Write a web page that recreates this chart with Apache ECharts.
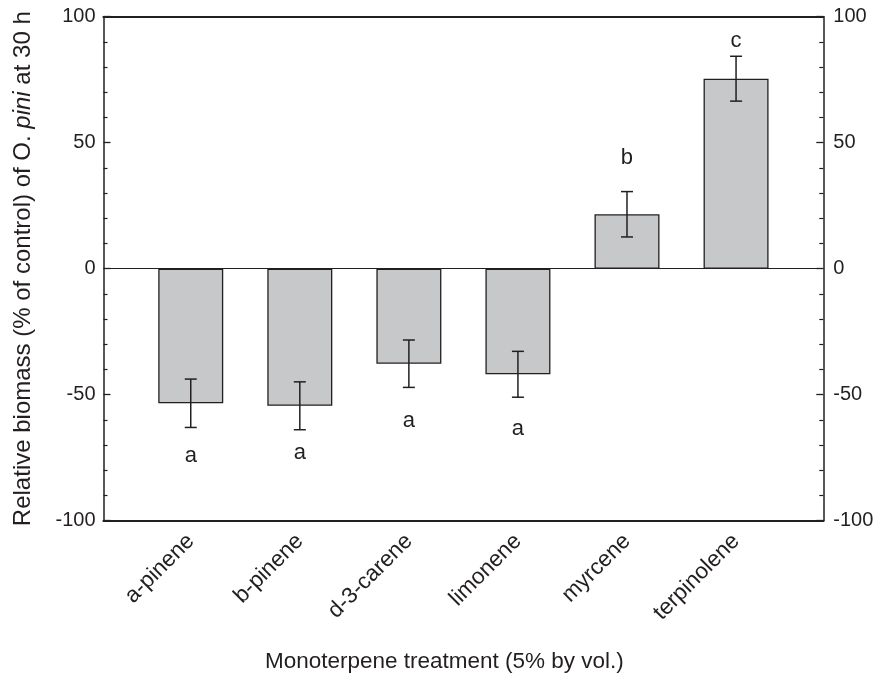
<!DOCTYPE html>
<html>
<head>
<meta charset="utf-8">
<script src="https://cdn.jsdelivr.net/npm/echarts@6/dist/echarts.min.js"></script>
<style>
html,body{margin:0;padding:0;background:#fff;}
#chart{width:875px;height:679px;}
</style>
</head>
<body>
<div id="chart"></div>
<script>
// ---- data ----
var categories = ['a-pinene', 'b-pinene', 'd-3-carene', 'limonene', 'myrcene', 'terpinolene'];
var means = [-53.4, -54.4, -37.7, -41.9, 21.6, 75.4];
var errors = [9.6, 9.5, 9.4, 9.1, 9.0, 8.9];
var letters = ['a', 'a', 'a', 'a', 'b', 'c'];
var letterY = [-74.2, -73.1, -60.5, -63.5, 44.0, 90.3];
var yTicks = [-100, -50, 0, 50, 100];

var positions = categories.map(function (c, i) { return i + 1; });
var barData = means.map(function (m, i) { return [positions[i], m]; });
var errData = means.map(function (m, i) { return [positions[i], m - errors[i], m + errors[i]]; });
var letterData = letterY.map(function (y, i) { return [positions[i], y, i]; });

var FONT = '"Liberation Sans", Arial, sans-serif';
var TXT = '#231f20';

var chart = echarts.init(document.getElementById('chart'));
var option = {
  animation: false,
  backgroundColor: '#fff',
  grid: { left: 103.5, right: 51.7, top: 16.7, bottom: 158.3, containLabel: false, outerBoundsMode: 'none' },
  xAxis: [
    {
      type: 'value', position: 'bottom', min: 0.2, max: 6.8,
      axisLine: { show: true, onZero: false, lineStyle: { color: TXT, width: 2.2 } },
      axisTick: { show: false },
      splitLine: { show: false },
      axisLabel: {
        customValues: positions,
        rotate: 45, margin: 17,
        fontFamily: FONT, fontSize: 22.5, color: TXT,
        formatter: function (v) { return categories[Math.round(v) - 1] || ''; }
      },
      name: 'Monoterpene treatment (5% by vol.)',
      nameLocation: 'middle', nameGap: 130,
      nameTextStyle: { fontFamily: FONT, fontSize: 22.5, color: TXT, padding: [0, 38, 0, 0] }
    },
    {
      type: 'value', position: 'top', min: 0.2, max: 6.8,
      axisLine: { show: true, onZero: false, lineStyle: { color: TXT, width: 2.2 } },
      axisTick: { show: false }, axisLabel: { show: false }, splitLine: { show: false }
    }
  ],
  yAxis: [
    {
      type: 'value', position: 'left', min: -100, max: 100, interval: 50,
      axisLine: { show: true, onZero: false, lineStyle: { color: TXT, width: 1.5 } },
      axisTick: { show: true, inside: true, length: 7, lineStyle: { color: TXT, width: 1.3 } },
      minorTick: { show: true, splitNumber: 5, length: 4, lineStyle: { color: TXT, width: 1.2 } },
      splitLine: { show: false },
      axisLabel: { fontFamily: FONT, fontSize: 20, color: TXT, margin: 8 },
      name: 'Relative biomass (% of control) of O. {i|pini} at 30 h',
      nameLocation: 'middle', nameGap: 68,
      nameTextStyle: {
        fontFamily: FONT, fontSize: 24, color: TXT,
        rich: { i: { fontFamily: FONT, fontSize: 24, color: TXT, fontStyle: 'italic' } }
      }
    },
    {
      type: 'value', position: 'right', min: -100, max: 100, interval: 50,
      axisLine: { show: true, onZero: false, lineStyle: { color: TXT, width: 1.5 } },
      axisTick: { show: true, inside: true, length: 7, lineStyle: { color: TXT, width: 1.3 } },
      minorTick: { show: true, splitNumber: 5, length: 4, lineStyle: { color: TXT, width: 1.2 } },
      splitLine: { show: false },
      axisLabel: { fontFamily: FONT, fontSize: 20, color: TXT, margin: 10 }
    }
  ],
  series: [
    {
      type: 'bar', xAxisIndex: 0, yAxisIndex: 0,
      data: barData, barWidth: 65,
      itemStyle: { color: '#c7c8ca', borderColor: TXT, borderWidth: 1.3 },
      markLine: {
        silent: true, symbol: 'none', label: { show: false },
        lineStyle: { color: TXT, width: 1.2, type: 'solid' },
        data: [{ yAxis: 0 }]
      },
      z: 2
    },
    {
      type: 'custom', xAxisIndex: 0, yAxisIndex: 0,
      data: errData, z: 5,
      renderItem: function (params, api) {
        var x = api.value(0);
        var lo = api.coord([x, api.value(1)]);
        var hi = api.coord([x, api.value(2)]);
        var hw = 6;
        var style = { stroke: TXT, lineWidth: 1.5 };
        return {
          type: 'group',
          children: [
            { type: 'line', shape: { x1: lo[0], y1: lo[1], x2: hi[0], y2: hi[1] }, style: style },
            { type: 'line', shape: { x1: lo[0] - hw, y1: lo[1], x2: lo[0] + hw, y2: lo[1] }, style: style },
            { type: 'line', shape: { x1: hi[0] - hw, y1: hi[1], x2: hi[0] + hw, y2: hi[1] }, style: style }
          ]
        };
      }
    },
    {
      type: 'custom', xAxisIndex: 0, yAxisIndex: 0,
      data: letterData, z: 6,
      renderItem: function (params, api) {
        var p = api.coord([api.value(0), api.value(1)]);
        return {
          type: 'text',
          x: p[0], y: p[1],
          style: {
            text: letters[api.value(2)],
            fill: TXT, font: '22px ' + FONT,
            align: 'center', verticalAlign: 'middle'
          }
        };
      }
    }
  ]
};
chart.setOption(option);
</script>
</body>
</html>
